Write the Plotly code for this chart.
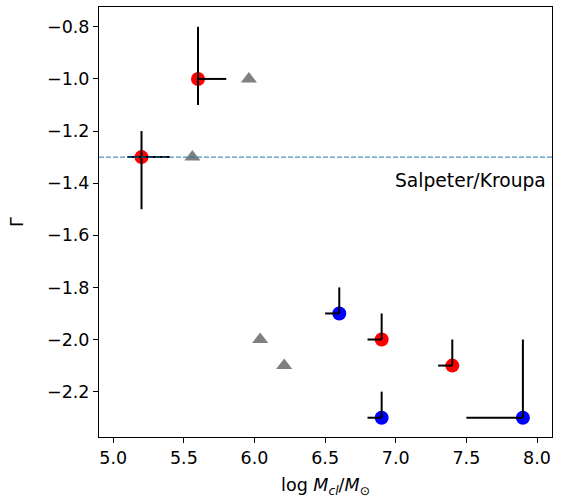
import plotly.graph_objects as go

# Red points
red_x = [5.6, 5.2, 6.9, 7.4]
red_y = [-1.0, -1.3, -2.0, -2.1]
red_xplus = [0.2, 0.2, 0.0, 0.0]
red_xminus = [0.0, 0.1, 0.1, 0.1]
red_yplus = [0.2, 0.1, 0.1, 0.1]
red_yminus = [0.1, 0.2, 0.0, 0.0]

# Blue points
blue_x = [6.6, 6.9, 7.9]
blue_y = [-1.9, -2.3, -2.3]
blue_xplus = [0.0, 0.0, 0.0]
blue_xminus = [0.1, 0.1, 0.4]
blue_yplus = [0.1, 0.1, 0.3]
blue_yminus = [0.0, 0.0, 0.0]

# Gray triangles
gray_x = [5.96, 5.56, 6.04, 6.21]
gray_y = [-1.0, -1.3, -2.0, -2.1]

salpeter = -1.3
xticks = [5.0, 5.5, 6.0, 6.5, 7.0, 7.5, 8.0]
yticks = [-0.8, -1.0, -1.2, -1.4, -1.6, -1.8, -2.0, -2.2]

FONT = "DejaVu Sans"
fig = go.Figure()

fig.add_hline(y=salpeter, line=dict(color="#1f77b4", width=1, dash="5px,2px"))

fig.add_trace(go.Scatter(x=gray_x, y=gray_y, mode="markers",
                         marker=dict(symbol="triangle-up", size=14, color="gray"),
                         showlegend=False))

for xs, ys, col in [(red_x, red_y, "red"), (blue_x, blue_y, "blue")]:
    fig.add_trace(go.Scatter(x=xs, y=ys, mode="markers",
                             marker=dict(size=14, color=col), showlegend=False))

for xs, ys, xp, xm, yp, ym in [
    (red_x, red_y, red_xplus, red_xminus, red_yplus, red_yminus),
    (blue_x, blue_y, blue_xplus, blue_xminus, blue_yplus, blue_yminus),
]:
    fig.add_trace(go.Scatter(
        x=xs, y=ys, mode="markers",
        marker=dict(size=1, color="rgba(0,0,0,0)"),
        error_x=dict(type="data", symmetric=False, array=xp, arrayminus=xm,
                     color="black", thickness=2, width=0),
        error_y=dict(type="data", symmetric=False, array=yp, arrayminus=ym,
                     color="black", thickness=2, width=0),
        showlegend=False, hoverinfo="skip"))

fig.add_annotation(text="Salpeter/Kroupa", xref="paper", x=0.991, xanchor="right",
                   y=-1.388, yanchor="middle", showarrow=False,
                   font=dict(family=FONT, size=18.7, color="black"))

axis_common = dict(showline=True, linecolor="black", linewidth=1, mirror=True,
                   ticks="outside", ticklen=5, tickwidth=1, tickcolor="black",
                   showgrid=False, zeroline=False,
                   tickfont=dict(family=FONT, size=17.5, color="black"))

fig.update_xaxes(range=[4.899, 8.106], tickvals=xticks,
                 ticktext=[f"{v:.1f}" for v in xticks],
                 title=dict(text="log <i>M<sub>cl</sub></i>/<i>M</i><sub>⊙</sub>",
                            font=dict(family=FONT, size=17.5, color="black"), standoff=12),
                 **axis_common)
fig.update_yaxes(range=[-2.374, -0.724], tickvals=yticks,
                 ticktext=[f"−{abs(v):.1f}" for v in yticks],
                 title=dict(text="Γ", font=dict(family=FONT, size=17.5, color="black"), standoff=18),
                 **axis_common)

fig.update_layout(width=565, height=498, margin=dict(l=99, r=13, t=6, b=59),
                  plot_bgcolor="white", paper_bgcolor="white",
                  font=dict(family=FONT, color="black"))

fig.write_html("out.html")
